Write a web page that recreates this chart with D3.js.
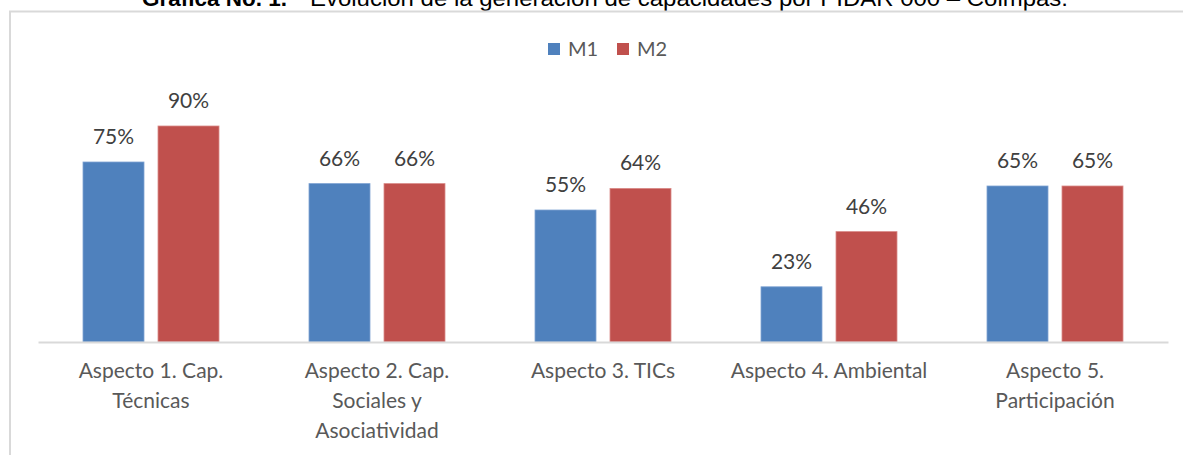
<!DOCTYPE html>
<html>
<head>
<meta charset="utf-8">
<script src="https://cdn.jsdelivr.net/npm/d3@7"></script>
<style>
  body { margin: 0; background: #fff; }
  svg { display: block; }
</style>
</head>
<body>
<div id="chart"></div>
<script>
// data
const categories = [
    "Aspecto 1. Cap.\nTécnicas",
    "Aspecto 2. Cap.\nSociales y\nAsociatividad",
    "Aspecto 3. TICs",
    "Aspecto 4. Ambiental",
    "Aspecto 5.\nParticipación"
];
const series = ["M1", "M2"];
const m1Values = [0.75, 0.66, 0.55, 0.23, 0.65];
const m2Values = [0.90, 0.66, 0.64, 0.46, 0.65];
const seriesColors = ["#4f81bd", "#c0504d"];

const titleBold = "Gráfica No. 1.";
const titleRest = "Evolución de la generación de capacidades por PIDAR 000 – Colmpas.";

const width = 1183, height = 455;

const svg = d3.select("#chart")
    .append("svg")
    .attr("width", width)
    .attr("height", height);

// title (cut at the top in the original scan)
svg.append("text")
    .attr("x", 142)
    .attr("y", 6)
    .attr("font-family", "Liberation Sans, Arial, sans-serif")
    .attr("font-weight", "bold")
    .attr("font-size", 22)
    .attr("textLength", 145)
    .attr("lengthAdjust", "spacingAndGlyphs")
    .text(titleBold);
svg.append("text")
    .attr("x", 310)
    .attr("y", 6)
    .attr("font-family", "Liberation Sans, Arial, sans-serif")
    .attr("font-size", 22)
    .attr("textLength", 758)
    .attr("lengthAdjust", "spacingAndGlyphs")
    .text(titleRest);

// chart frame (left + top edges only visible)
svg.append("path")
    .attr("d", `M10,${height} L10,11.5 L${width},11.5`)
    .attr("fill", "none")
    .attr("stroke", "#d9d9d9")
    .attr("stroke-width", 2);

// scales
const x = d3.scaleBand()
    .domain(categories)
    .range([38, 1168]);

const xInner = d3.scaleBand()
    .domain(series)
    .range([45, x.bandwidth() - 45])
    .paddingInner(0.1867);

const y = d3.scaleLinear()
    .domain([0, 1])
    .range([342, 102]);

const color = d3.scaleOrdinal()
    .domain(series)
    .range(seriesColors);

const rows = [];
categories.forEach((c, i) => {
    rows.push({cat: c, s: "M1", val: m1Values[i]});
    rows.push({cat: c, s: "M2", val: m2Values[i]});
});

// bars
svg.append("g")
    .selectAll("rect")
    .data(rows)
    .enter()
    .append("rect")
    .attr("x", d => x(d.cat) + xInner(d.s))
    .attr("y", d => y(d.val))
    .attr("width", xInner.bandwidth())
    .attr("height", d => y(0) - y(d.val))
    .attr("fill", d => color(d.s))
    .attr("stroke", d => d.s === "M1" ? "#7fa3d3" : "#d98a88")
    .attr("stroke-width", 0.8);

// data labels
svg.append("g")
    .selectAll("text")
    .data(rows)
    .enter()
    .append("text")
    .attr("x", d => x(d.cat) + xInner(d.s) + xInner.bandwidth() / 2)
    .attr("y", d => y(d.val) - 18)
    .attr("text-anchor", "middle")
    .attr("font-family", "Lato, sans-serif")
    .attr("font-size", 21)
    .attr("fill", "#404040")
    .text(d => d3.format(".0%")(d.val));

// x axis
const xAxis = svg.append("g")
    .attr("transform", `translate(0,${y(0)})`)
    .call(d3.axisBottom(x).tickSize(0).tickFormat(""));
xAxis.select(".domain")
    .attr("stroke", "#d9d9d9")
    .attr("stroke-width", 2);

// category labels (multi-line)
const catLabels = svg.append("g")
    .selectAll("text")
    .data(categories)
    .enter()
    .append("text")
    .attr("text-anchor", "middle")
    .attr("font-family", "Lato, sans-serif")
    .attr("font-size", 21)
    .attr("fill", "#595959");
catLabels.each(function (d) {
    const lines = d.split("\n");
    d3.select(this).selectAll("tspan")
        .data(lines)
        .enter()
        .append("tspan")
        .attr("x", x(d) + x.bandwidth() / 2)
        .attr("y", (l, i) => 378 + i * 30)
        .text(l => l);
});

// legend
const legend = svg.append("g")
    .attr("transform", "translate(548,0)");
const legendItems = legend.selectAll("g")
    .data(series)
    .enter()
    .append("g")
    .attr("transform", (d, i) => `translate(${i * 69},0)`);
legendItems.append("rect")
    .attr("x", 0)
    .attr("y", 43)
    .attr("width", 12)
    .attr("height", 12)
    .attr("fill", d => color(d));
legendItems.append("text")
    .attr("x", 20)
    .attr("y", 56)
    .attr("font-family", "Lato, sans-serif")
    .attr("font-size", 20)
    .attr("fill", "#595959")
    .text(d => d);
</script>
</body>
</html>
